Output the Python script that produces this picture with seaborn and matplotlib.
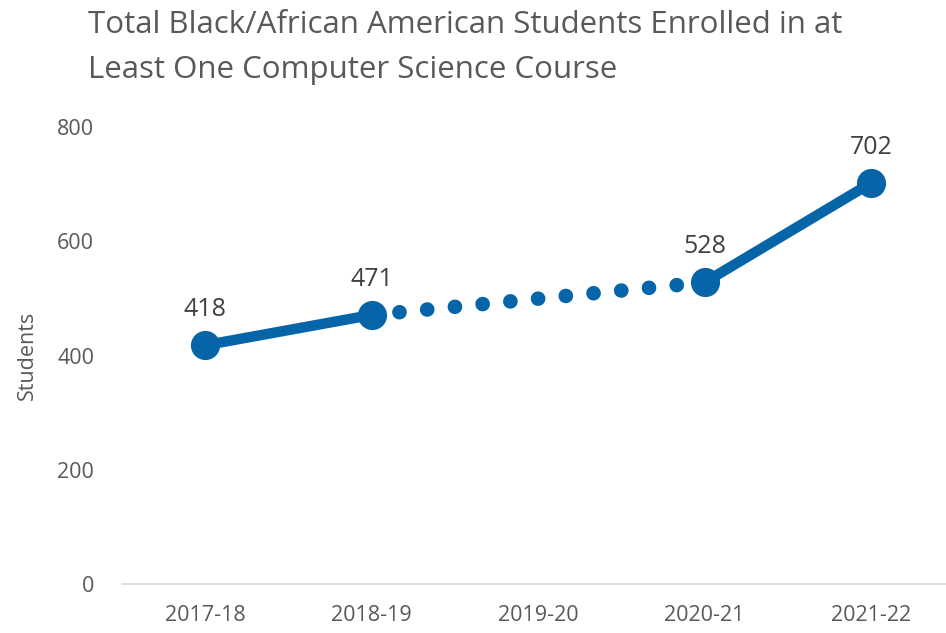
import matplotlib
matplotlib.use("Agg")
import matplotlib.pyplot as plt
import seaborn as sns
import pandas as pd
import numpy as np

years = ["2017-18", "2018-19", "2019-20", "2020-21", "2021-22"]
students = [418, 471, np.nan, 528, 702]
y_ticks = [0, 200, 400, 600, 800]
title = "Total Black/African American Students Enrolled in at\nLeast One Computer Science Course"

sns.set_theme(style="white")
plt.rcParams["font.family"] = ["Open Sans", "DejaVu Sans"]

BLUE = "#0565A8"
GRAY = "#595959"

df = pd.DataFrame({"year": years, "students": students})
df["x"] = np.arange(len(years))

fig = plt.figure(figsize=(9.46, 6.33), dpi=100)
ax = fig.add_axes([122/946, 1-584/633, 1-122/946, (584-127)/633])

# dotted segment bridging the missing year
gap = df.dropna().iloc[1:3]
sns.lineplot(data=gap, x="x", y="students", ax=ax, color=BLUE, linewidth=10.5,
             linestyle=(0, (0.01, 1.9)), dash_capstyle="round", zorder=1)

# solid segments
for seg in (df.iloc[0:2], df.iloc[3:5]):
    sns.lineplot(data=seg, x="x", y="students", ax=ax, color=BLUE, linewidth=7.5,
                 marker="o", markersize=21, markeredgewidth=0,
                 solid_capstyle="round", zorder=2)

for _, r in df.dropna().iterrows():
    ax.annotate(f"{int(r['students'])}", (r["x"], r["students"]), xytext=(0, 21),
                textcoords="offset points", ha="center", va="baseline",
                fontsize=18, color="#404040")

ax.set_xlim(-0.5, 4.45)
ax.set_ylim(0, 800)
ax.set_yticks(y_ticks)
ax.set_xticks(df["x"])
ax.set_xticklabels(years)
ax.tick_params(axis="both", length=0, labelsize=15.5, colors=GRAY)
ax.tick_params(axis="y", pad=20)
ax.tick_params(axis="x", pad=15)
ax.set_xlabel("")
ax.set_ylabel("Students", fontsize=15.5, color=GRAY, labelpad=14)
for s in ("top", "right", "left"):
    ax.spines[s].set_visible(False)
ax.spines["bottom"].set_color("#d9d9d9")
ax.spines["bottom"].set_linewidth(1.2)
ax.grid(False)

fig.text(88/946, 1-10/633, title, ha="left", va="top", fontsize=22.5, color=GRAY,
         linespacing=1.65)

fig.savefig("out.png", dpi=100)
